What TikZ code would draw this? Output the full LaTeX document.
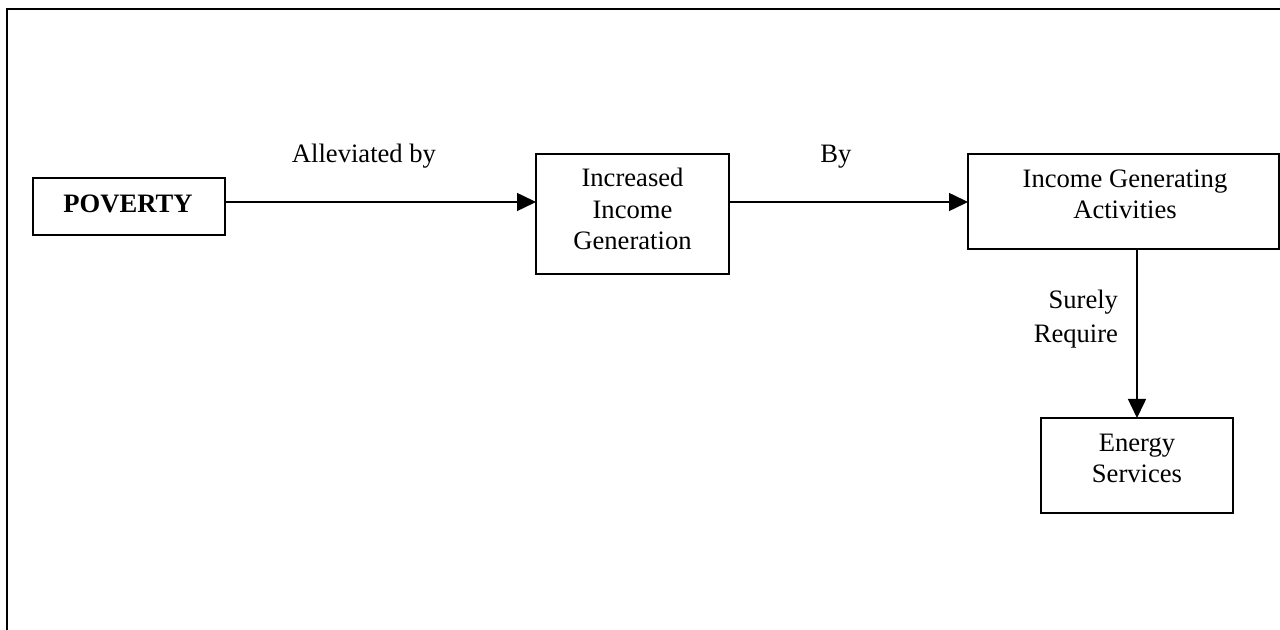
\documentclass[tikz,border=0pt]{standalone}
\usepackage{fontspec}
\setmainfont{Liberation Serif}
\usetikzlibrary{arrows.meta}
\begin{document}
\begin{tikzpicture}[x=0.5pt,y=-0.5pt,
  box/.style={draw=black,line width=0.75pt,inner sep=0pt,outer sep=0pt,rectangle},
  txt/.style={inner sep=0pt,outer sep=0pt,align=center,font=\fontsize{13.3}{15.75}\selectfont},
  arr/.style={draw=black,line width=0.75pt,-{Triangle[length=9.5pt,width=9pt]}},
  frame/.style={draw=black,line width=1pt}]
\useasboundingbox (0,0) rectangle (1280,630);
\clip (0,0) rectangle (1280,630);
% outer frame
\coordinate (fbl) at (7,640);
\coordinate (ftl) at (7,9);
\coordinate (ftr) at (1290,9);
\draw[frame] (fbl) -- (ftl) -- (ftr);
% boxes
\node[box,minimum width=96pt,minimum height=28.5pt] (pov) at (129,206.5) {};
\node[box,minimum width=96.5pt,minimum height=60pt] (inc) at (632.5,214) {};
\node[box,minimum width=155.5pt,minimum height=47.5pt] (iga) at (1123.5,201.5) {};
\node[box,minimum width=96pt,minimum height=47.5pt] (ene) at (1137,465.5) {};
% box texts (base anchor = baseline of last line)
\node[txt,anchor=base] (povtxt) at (128,213) {\bfseries POVERTY};
\node[txt,anchor=base] (inctxt) at (632.5,250) {Increased\\Income\\Generation};
\node[txt,anchor=base] (igatxt) at (1125,219) {Income Generating\\Activities};
\node[txt,anchor=base] (enetxt) at (1137,483) {Energy\\Services};
% connector labels
\node[txt,anchor=base] (l1) at (364,163) {Alleviated by};
\node[txt,anchor=base] (l2) at (836,163) {By};
\node[txt,anchor=base east,align=right,font=\fontsize{13.3}{17}\selectfont] (l3) at (1118,343) {Surely\\Require};
% connectors
\draw[arr] (pov.east |- 0,202) -- (inc.west |- 0,202);
\draw[arr] (inc.east |- 0,202) -- (iga.west |- 0,202);
\draw[arr] (iga.south -| ene.north) -- (ene.north);
\end{tikzpicture}
\end{document}
